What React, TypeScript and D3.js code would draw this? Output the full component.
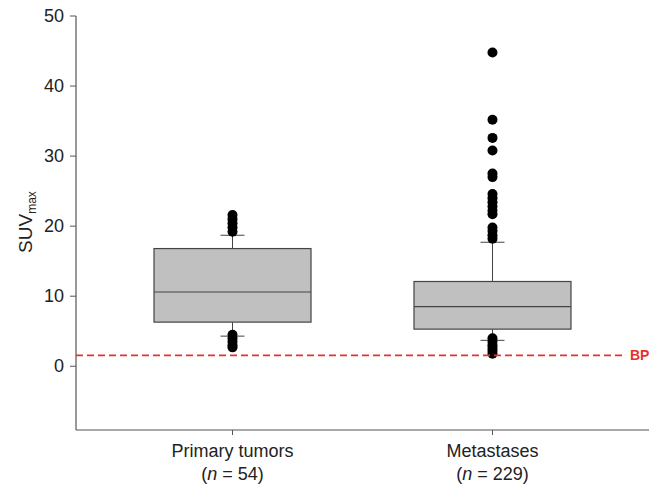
import React, { useEffect, useRef } from 'react';
import * as d3 from 'd3';

const categories = ['Primary tumors', 'Metastases'];
const counts = [54, 229];
const q1 = [6.3, 5.3];
const medians = [10.6, 8.5];
const q3 = [16.8, 12.1];
const whiskerLow = [4.3, 3.7];
const whiskerHigh = [18.7, 17.7];
const outliersPrimary = [21.6, 21.0, 20.4, 19.8, 19.2, 4.5, 4.0, 3.5, 3.0, 2.7];
const outliersMetastases = [
  44.8, 35.2, 32.6, 30.8, 27.5, 27.0, 24.6, 24.0, 23.4, 22.8, 22.2, 21.7,
  19.8, 19.3, 18.7, 18.2, 4.0, 3.5, 3.0, 2.6, 2.2, 1.8,
];
const yTicks = [0, 10, 20, 30, 40, 50];
const bpValue = 1.55;

export default function App() {
  const ref = useRef<SVGSVGElement>(null);

  useEffect(() => {
    const width = 649;
    const height = 488;
    const margin = { top: 16, left: 76, bottom: 58 };

    const svg = d3.select(ref.current);
    svg.selectAll('*').remove();
    svg.attr('width', width).attr('height', height);

    const font = 'Liberation Sans, Arial, sans-serif';
    const axisColor = '#555';

    const y = d3.scaleLinear()
      .domain([-9.1, 50])
      .range([height - margin.bottom, margin.top]);

    const x = d3.scalePoint()
      .domain(categories)
      .range([margin.left, width])
      .padding(0.602);

    const boxWidth = 157;
    const capWidth = 24;

    // axes
    svg.append('line')
      .attr('x1', margin.left).attr('x2', margin.left)
      .attr('y1', y(50)).attr('y2', y(-9.1))
      .attr('stroke', axisColor).attr('stroke-width', 1.2);
    svg.append('line')
      .attr('x1', margin.left).attr('x2', width)
      .attr('y1', y(-9.1)).attr('y2', y(-9.1))
      .attr('stroke', axisColor).attr('stroke-width', 1.2);

    const yt = svg.append('g');
    yt.selectAll('line').data(yTicks).join('line')
      .attr('x1', margin.left - 6).attr('x2', margin.left)
      .attr('y1', d => y(d)).attr('y2', d => y(d))
      .attr('stroke', axisColor);
    yt.selectAll('text').data(yTicks).join('text')
      .attr('x', margin.left - 12)
      .attr('y', d => y(d) + 6)
      .attr('text-anchor', 'end')
      .attr('font-family', font)
      .attr('font-size', 18)
      .attr('fill', '#222')
      .text(d => d);

    const xt = svg.append('g');
    xt.selectAll('line').data(categories).join('line')
      .attr('x1', d => x(d)!).attr('x2', d => x(d)!)
      .attr('y1', y(-9.1)).attr('y2', y(-9.1) + 5)
      .attr('stroke', axisColor);
    xt.selectAll('text.cat').data(categories).join('text')
      .attr('class', 'cat')
      .attr('x', d => x(d)!)
      .attr('y', 457)
      .attr('text-anchor', 'middle')
      .attr('font-family', font)
      .attr('font-size', 18)
      .attr('fill', '#222')
      .text(d => d);
    const nLabels = xt.selectAll('text.n').data(categories).join('text')
      .attr('class', 'n')
      .attr('x', d => x(d)!)
      .attr('y', 480)
      .attr('text-anchor', 'middle')
      .attr('font-family', font)
      .attr('font-size', 18)
      .attr('fill', '#222');
    nLabels.append('tspan').text('(');
    nLabels.append('tspan').attr('font-style', 'italic').text('n');
    nLabels.append('tspan').text((_, i) => ` = ${counts[i]})`);

    // y label
    const yl = svg.append('text')
      .attr('transform', `translate(32, 222) rotate(-90)`)
      .attr('text-anchor', 'middle')
      .attr('font-family', font)
      .attr('font-size', 19)
      .attr('fill', '#222');
    yl.append('tspan').text('SUV');
    yl.append('tspan').attr('font-size', 12).attr('dy', 4).text('max');

    // boxes
    const g = svg.append('g');
    categories.forEach((c, i) => {
      const cx = x(c)!;
      g.append('line')
        .attr('x1', cx).attr('x2', cx)
        .attr('y1', y(whiskerHigh[i])).attr('y2', y(q3[i]))
        .attr('stroke', '#444');
      g.append('line')
        .attr('x1', cx).attr('x2', cx)
        .attr('y1', y(q1[i])).attr('y2', y(whiskerLow[i]))
        .attr('stroke', '#444');
      [whiskerHigh[i], whiskerLow[i]].forEach(v => {
        g.append('line')
          .attr('x1', cx - capWidth / 2).attr('x2', cx + capWidth / 2)
          .attr('y1', y(v)).attr('y2', y(v))
          .attr('stroke', '#444');
      });
      g.append('rect')
        .attr('x', cx - boxWidth / 2)
        .attr('y', y(q3[i]))
        .attr('width', boxWidth)
        .attr('height', y(q1[i]) - y(q3[i]))
        .attr('fill', '#c0c0c0')
        .attr('stroke', '#444')
        .attr('stroke-width', 1.2);
      g.append('line')
        .attr('x1', cx - boxWidth / 2).attr('x2', cx + boxWidth / 2)
        .attr('y1', y(medians[i])).attr('y2', y(medians[i]))
        .attr('stroke', '#444')
        .attr('stroke-width', 1.2);
    });

    // BP reference line
    svg.append('line')
      .attr('x1', margin.left).attr('x2', 623)
      .attr('y1', y(bpValue)).attr('y2', y(bpValue))
      .attr('stroke', '#e8312f')
      .attr('stroke-width', 1.8)
      .attr('stroke-dasharray', '7,4');
    svg.append('text')
      .attr('x', 630)
      .attr('y', y(bpValue) + 5)
      .attr('font-family', font)
      .attr('font-size', 14)
      .attr('font-weight', 'bold')
      .attr('fill', '#e8312f')
      .text('BP');

    // outliers
    const outliers = [outliersPrimary, outliersMetastases];
    categories.forEach((c, i) => {
      g.selectAll(`circle.o${i}`).data(outliers[i]).join('circle')
        .attr('class', `o${i}`)
        .attr('cx', x(c)!)
        .attr('cy', d => y(d))
        .attr('r', 5)
        .attr('fill', '#000');
    });
  }, []);

  return <svg ref={ref} style={{ position: 'absolute', left: 0, top: 0 }} />;
}
